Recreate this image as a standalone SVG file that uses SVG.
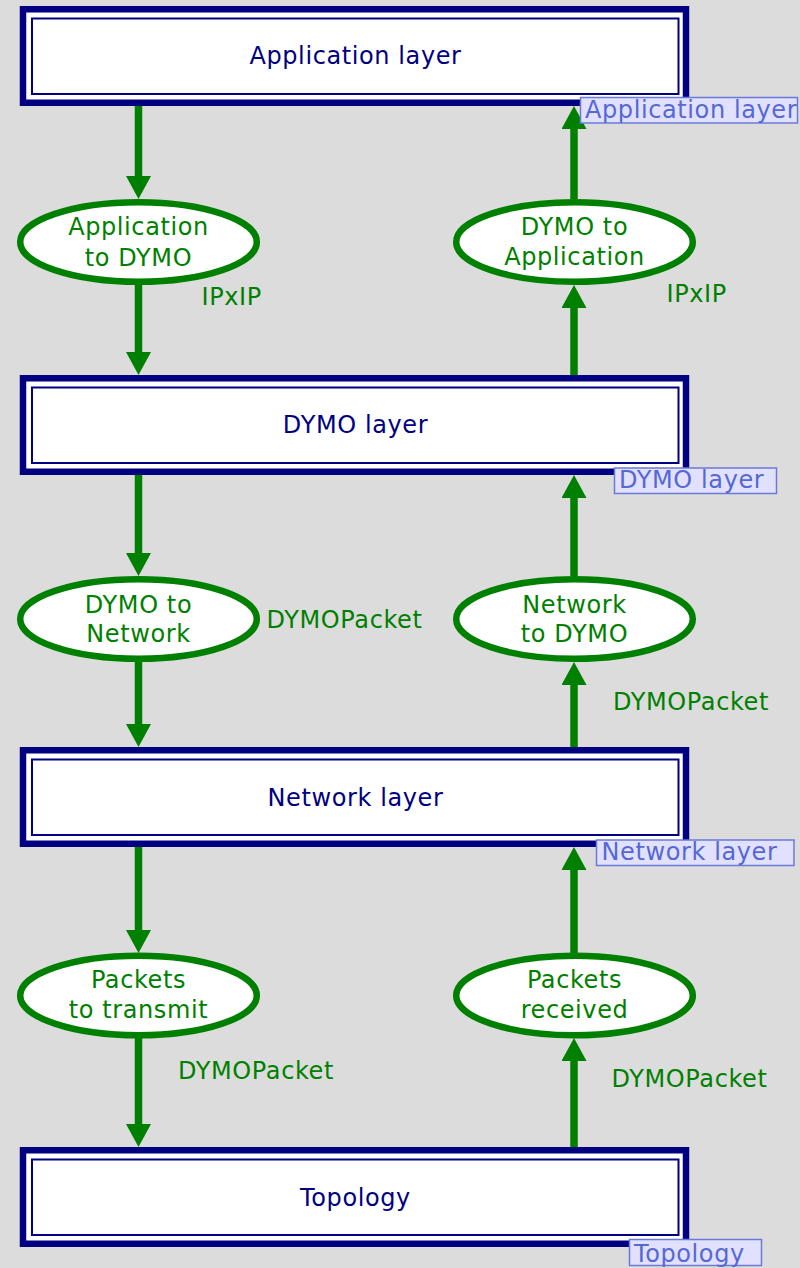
<svg xmlns="http://www.w3.org/2000/svg" width="800" height="1268" viewBox="0 0 800 1268">
  <style>
    .bg { fill: #dcdcdc; }
    .layer-outer { fill: #ffffff; stroke: #000080; stroke-width: 6.5; }
    .layer-inner { fill: #ffffff; stroke: #000080; stroke-width: 2; }
    .layer-text { font-family: "DejaVu Sans", Verdana, sans-serif; font-size: 24px; letter-spacing: 0.6px; fill: #000080; text-anchor: middle; }
    .trans { fill: #ffffff; stroke: #008000; stroke-width: 6.5; }
    .trans-text { font-family: "DejaVu Sans", Verdana, sans-serif; font-size: 24px; letter-spacing: 0.6px; fill: #008000; text-anchor: middle; }
    .edge { fill: none; stroke: #008000; stroke-width: 7.5; marker-end: url(#arrow); }
    .edge-label { font-family: "DejaVu Sans", Verdana, sans-serif; font-size: 24px; letter-spacing: 0.6px; fill: #008000; }
    .tag-box { fill: #e1e1ff; stroke: #6a7ad8; stroke-width: 1.5; }
    .tag-text { font-family: "DejaVu Sans", Verdana, sans-serif; font-size: 24px; letter-spacing: 0.6px; fill: #5568d4; }
  </style>
  <defs>
    <marker id="arrow" markerUnits="userSpaceOnUse" viewBox="0 0 23 25" markerWidth="23" markerHeight="25" refX="0" refY="12.5" orient="auto">
      <path d="M0,0 L23,12.5 L0,25 z" fill="#008000"/>
    </marker>
  </defs>

  <rect class="bg" x="0" y="0" width="800" height="1268"/>

  <!-- arcs between layers and transitions -->
  <g id="connectors">
    <!-- downward chain, left column -->
    <path class="edge" d="M138.5,106 V176"/>
    <path class="edge" d="M138.5,285 V352"/>
    <path class="edge" d="M138.5,475 V553"/>
    <path class="edge" d="M138.5,662 V724"/>
    <path class="edge" d="M138.5,847 V930"/>
    <path class="edge" d="M138.5,1038 V1124"/>
    <!-- upward chain, right column -->
    <path class="edge" d="M574,1147 V1061"/>
    <path class="edge" d="M574,953 V870"/>
    <path class="edge" d="M574,747 V685"/>
    <path class="edge" d="M574,576 V498"/>
    <path class="edge" d="M574,375 V308"/>
    <path class="edge" d="M574,199 V129"/>
    <!-- arc inscriptions -->
    <text class="edge-label" x="201.5" y="304.5">IPxIP</text>
    <text class="edge-label" x="666.5" y="301.5">IPxIP</text>
    <text class="edge-label" x="266.5" y="628.3">DYMOPacket</text>
    <text class="edge-label" x="613" y="710">DYMOPacket</text>
    <text class="edge-label" x="178" y="1079.3">DYMOPacket</text>
    <text class="edge-label" x="611.5" y="1086.7">DYMOPacket</text>
  </g>

  <!-- substitution layers -->
  <g id="application-layer">
    <rect class="layer-outer" x="23" y="9.25" width="663" height="93.5"/>
    <rect class="layer-inner" x="32" y="18.5" width="646.5" height="75.5"/>
    <text class="layer-text" x="355.5" y="64">Application layer</text>
  </g>
  <g id="dymo-layer">
    <rect class="layer-outer" x="23" y="378.25" width="663" height="93.5"/>
    <rect class="layer-inner" x="32" y="387.5" width="646.5" height="75.5"/>
    <text class="layer-text" x="355.5" y="433.3">DYMO layer</text>
  </g>
  <g id="network-layer">
    <rect class="layer-outer" x="23" y="750.25" width="663" height="93.5"/>
    <rect class="layer-inner" x="32" y="759.5" width="646.5" height="75.5"/>
    <text class="layer-text" x="355.5" y="805.5">Network layer</text>
  </g>
  <g id="topology">
    <rect class="layer-outer" x="23" y="1150.25" width="663" height="93.5"/>
    <rect class="layer-inner" x="32" y="1159.5" width="646.5" height="75.5"/>
    <text class="layer-text" x="355.5" y="1205.5">Topology</text>
  </g>

  <!-- transitions -->
  <g id="application-to-dymo">
    <ellipse class="trans" cx="138.5" cy="242" rx="118.3" ry="39.8"/>
    <text class="trans-text" x="138.5" y="235">Application</text>
    <text class="trans-text" x="138.5" y="265.5">to DYMO</text>
  </g>
  <g id="dymo-to-application">
    <ellipse class="trans" cx="574.5" cy="242" rx="118.3" ry="39.8"/>
    <text class="trans-text" x="574.5" y="235">DYMO to</text>
    <text class="trans-text" x="574.5" y="264.5">Application</text>
  </g>
  <g id="dymo-to-network">
    <ellipse class="trans" cx="138.5" cy="619" rx="118.3" ry="39.8"/>
    <text class="trans-text" x="138.5" y="613.3">DYMO to</text>
    <text class="trans-text" x="138.5" y="641.7">Network</text>
  </g>
  <g id="network-to-dymo">
    <ellipse class="trans" cx="574.5" cy="619" rx="118.3" ry="39.8"/>
    <text class="trans-text" x="574.5" y="613.3">Network</text>
    <text class="trans-text" x="574.5" y="641.7">to DYMO</text>
  </g>
  <g id="packets-to-transmit">
    <ellipse class="trans" cx="138.5" cy="995.5" rx="118.3" ry="39.8"/>
    <text class="trans-text" x="138.5" y="988.3">Packets</text>
    <text class="trans-text" x="138.5" y="1018.3">to transmit</text>
  </g>
  <g id="packets-received">
    <ellipse class="trans" cx="574.5" cy="995.5" rx="118.3" ry="39.8"/>
    <text class="trans-text" x="574.5" y="988.3">Packets</text>
    <text class="trans-text" x="574.5" y="1018.3">received</text>
  </g>

  <!-- substitution tags -->
  <g id="tag-application-layer">
    <rect class="tag-box" x="580.5" y="97.5" width="217" height="25.5"/>
    <text class="tag-text" x="585" y="118.3">Application layer</text>
  </g>
  <g id="tag-dymo-layer">
    <rect class="tag-box" x="614.5" y="468" width="162" height="25.5"/>
    <text class="tag-text" x="619" y="488.3">DYMO layer</text>
  </g>
  <g id="tag-network-layer">
    <rect class="tag-box" x="596.5" y="840" width="197.5" height="25.5"/>
    <text class="tag-text" x="601.5" y="860">Network layer</text>
  </g>
  <g id="tag-topology">
    <rect class="tag-box" x="629.5" y="1239.5" width="132" height="26"/>
    <text class="tag-text" x="634" y="1261.5">Topology</text>
  </g>
</svg>
